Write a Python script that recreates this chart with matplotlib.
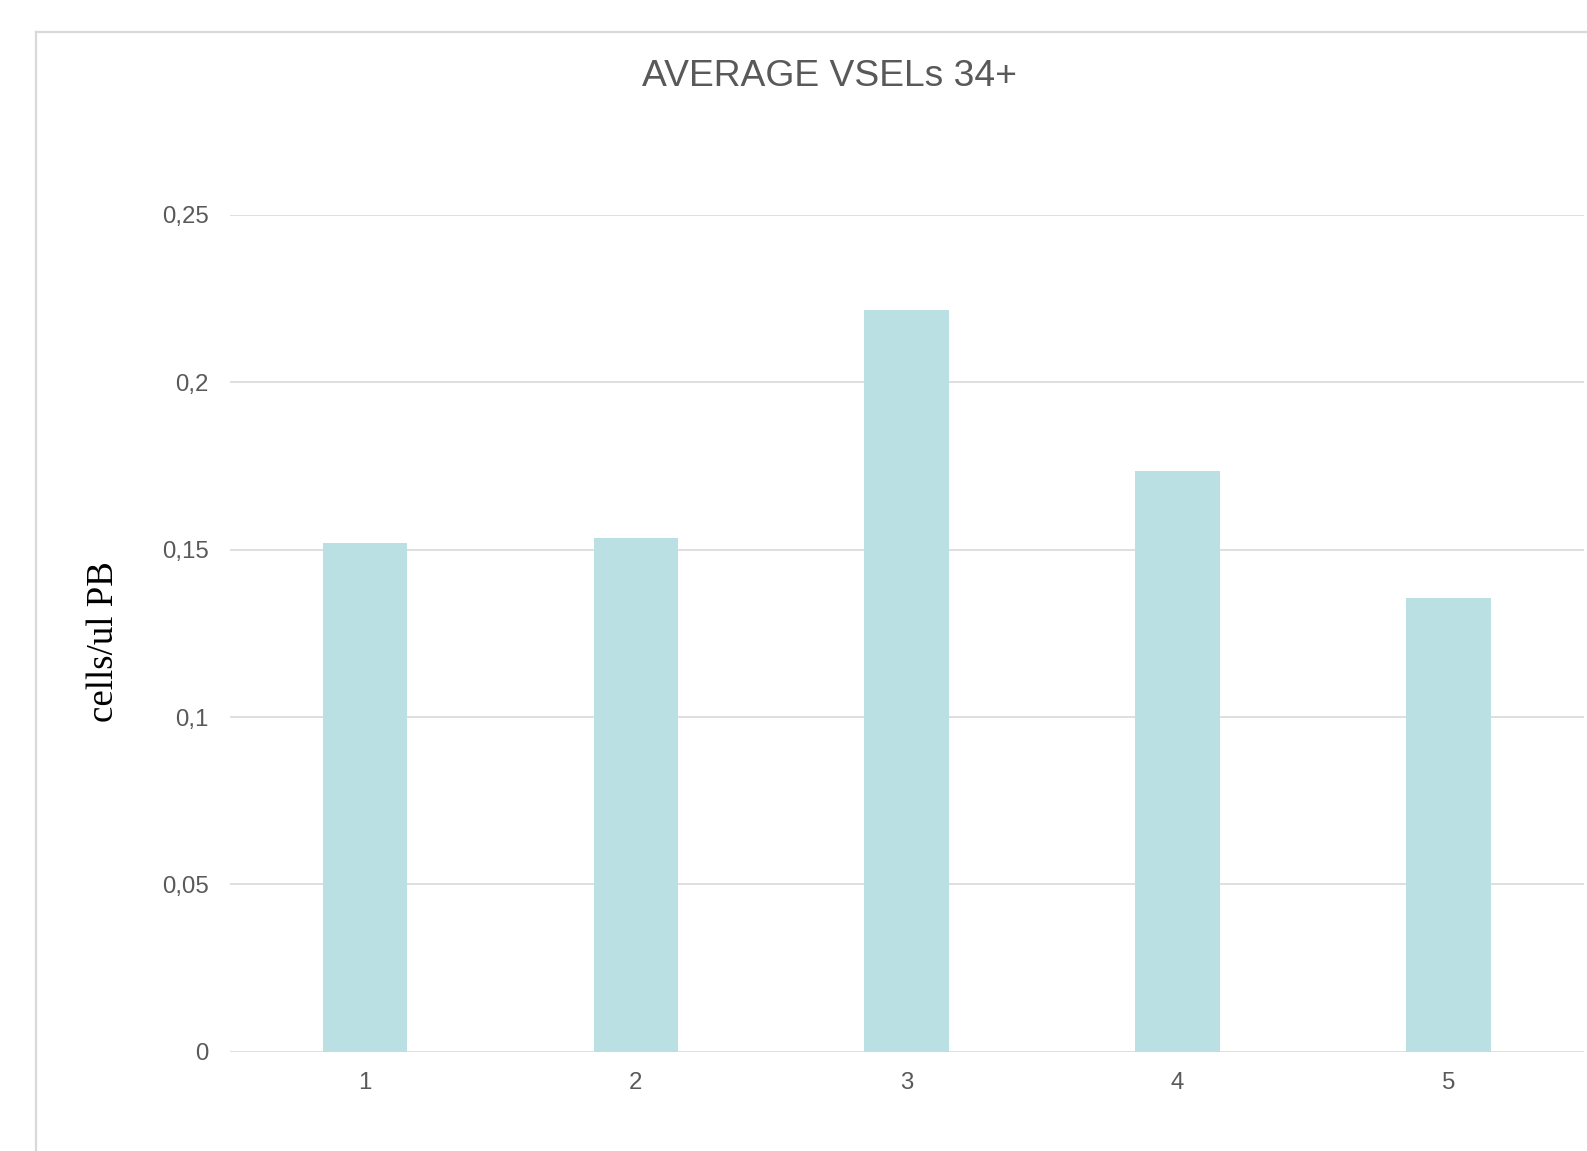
import matplotlib
matplotlib.use("Agg")
import matplotlib.pyplot as plt
from matplotlib.lines import Line2D
from matplotlib.ticker import FuncFormatter

# Data
groups = ["1", "2", "3", "4", "5"]
values = [0.152, 0.1535, 0.2215, 0.1735, 0.1357]
y_ticks = [0, 0.05, 0.1, 0.15, 0.2, 0.25]

W, H, DPI = 1587, 1151, 100
fig = plt.figure(figsize=(W / DPI, H / DPI), dpi=DPI)
fig.patch.set_facecolor("white")

# Chart-area frame (left and top edges visible)
frame_col = "#d9d9d9"
x0, y0 = 36 / W, 1 - 32 / H
fig.add_artist(Line2D([x0, x0], [0, y0], transform=fig.transFigure,
                      color=frame_col, lw=1.6))
fig.add_artist(Line2D([x0, 1.0], [y0, y0], transform=fig.transFigure,
                      color=frame_col, lw=1.6))

left, right = 229.5 / W, 1584 / W
bottom, top = 1 - 1051.7 / H, 1 - 215 / H
ax = fig.add_axes([left, bottom, right - left, top - bottom])

x = list(range(len(groups)))
ax.bar(x, values, width=0.312, color="#bae0e3", zorder=3)

ax.set_xlim(-0.5, len(groups) - 0.5)
ax.set_ylim(0, 0.25)
ax.set_yticks(y_ticks)
ax.yaxis.set_major_formatter(FuncFormatter(lambda v, p: f"{v:g}".replace(".", ",")))
ax.set_xticks(x)
ax.set_xticklabels(groups)

ax.grid(axis="y", color="#d9d9d9", lw=1.2, zorder=0)
for s in ax.spines.values():
    s.set_visible(False)
ax.tick_params(axis="both", length=0, labelsize=17.3, labelcolor="#595959")
ax.tick_params(axis="y", pad=15)
ax.tick_params(axis="x", pad=14.5)
for lbl in ax.get_xticklabels() + ax.get_yticklabels():
    lbl.set_family("Liberation Sans")

fig.text(830 / W, 1 - 77 / H, "AVERAGE VSELs 34+", ha="center", va="center",
         fontsize=26.8, color="#595959", family="Liberation Sans")
fig.text(104 / W, 1 - 642 / H, "cells/ul PB", ha="center", va="center",
         rotation=90, fontsize=26.6, color="black", family="Liberation Serif")

fig.savefig("out.png", dpi=DPI)
